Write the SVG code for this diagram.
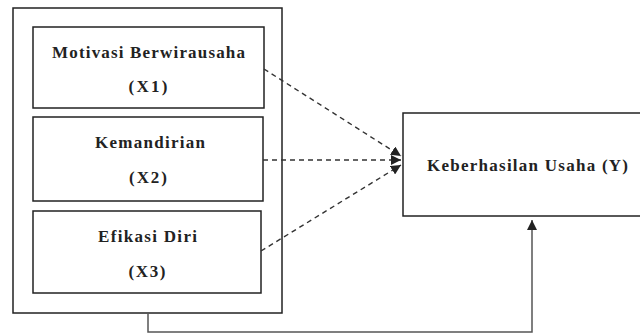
<svg xmlns="http://www.w3.org/2000/svg" width="640" height="334" viewBox="0 0 640 334">
<style>
.box{fill:#fff;stroke:#222;stroke-width:1.5}
.t{font-family:"Liberation Serif","Times New Roman","DejaVu Serif",serif;font-weight:bold;font-size:17px;fill:#222;text-anchor:middle}
.dash{fill:none;stroke:#333;stroke-width:1.4;stroke-dasharray:5,4}
.solid{fill:none;stroke:#555;stroke-width:1.5}
</style>
<defs>
<marker id="ah" viewBox="0 0 10 10" refX="10" refY="5" markerWidth="10" markerHeight="10" markerUnits="userSpaceOnUse" orient="auto">
<path d="M0,0 L10,5 L0,10 z" fill="#222"/>
</marker>
</defs>
<rect width="640" height="334" fill="#fff"/>
<g id="outer"><rect class="box" x="13" y="8" width="269" height="305"/></g>
<g id="x1"><rect class="box" x="33" y="27" width="231" height="81"/>
<text class="t" x="148.5" y="58" textLength="193" lengthAdjust="spacing">Motivasi Berwirausaha</text>
<text class="t" x="148" y="92" textLength="39" lengthAdjust="spacing">(X1)</text></g>
<g id="x2"><rect class="box" x="33" y="117" width="230" height="84"/>
<text class="t" x="150" y="148" textLength="110" lengthAdjust="spacing">Kemandirian</text>
<text class="t" x="148" y="183" textLength="38" lengthAdjust="spacing">(X2)</text></g>
<g id="x3"><rect class="box" x="33" y="211" width="228" height="82"/>
<text class="t" x="147.5" y="242" textLength="99" lengthAdjust="spacing">Efikasi Diri</text>
<text class="t" x="147" y="277" textLength="37" lengthAdjust="spacing">(X3)</text></g>
<g id="y"><rect class="box" x="403" y="113" width="250" height="103"/>
<text class="t" x="527.5" y="171" textLength="201" lengthAdjust="spacing">Keberhasilan Usaha (Y)</text></g>
<g id="connectors">
<line class="dash" x1="264" y1="69" x2="401" y2="156" marker-end="url(#ah)"/>
<line class="dash" x1="263" y1="160" x2="401" y2="160" marker-end="url(#ah)"/>
<line class="dash" x1="261" y1="251" x2="401" y2="165" marker-end="url(#ah)"/>
<polyline class="solid" points="148,313 148,332 532,332 532,220" marker-end="url(#ah)"/>
</g>
</svg>
